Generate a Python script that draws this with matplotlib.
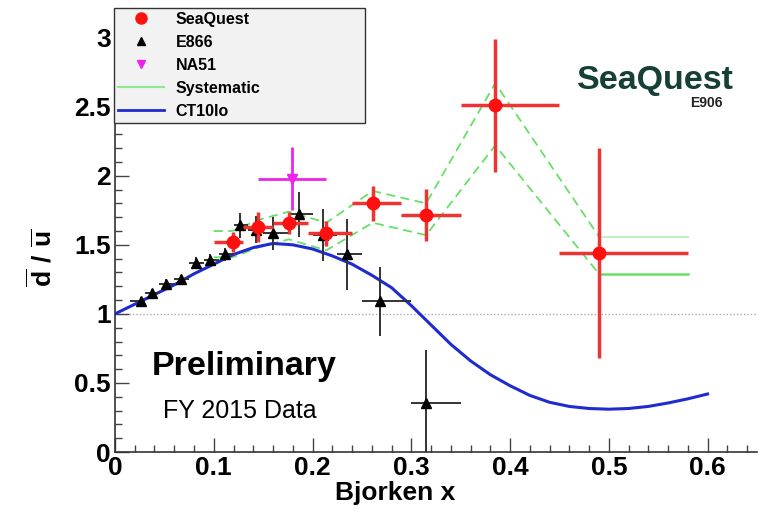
import numpy as np
import matplotlib
matplotlib.use("Agg")
import matplotlib.pyplot as plt
from matplotlib.lines import Line2D
from matplotlib.ticker import MultipleLocator

plt.rcParams['font.family'] = ['Liberation Sans', 'DejaVu Sans']
plt.rcParams['mathtext.fontset'] = 'custom'
plt.rcParams['mathtext.bf'] = 'Liberation Sans:bold'
plt.rcParams['mathtext.rm'] = 'Liberation Sans'

# SeaQuest points (bin edges, centres, values, stat errors, systematic band)
sq_lo = [0.10, 0.13, 0.16, 0.195, 0.24, 0.29, 0.35, 0.45]
sq_hi = [0.13, 0.16, 0.195, 0.24, 0.29, 0.35, 0.45, 0.58]
sq_x = [0.119, 0.145, 0.176, 0.214, 0.261, 0.315, 0.385, 0.490]
sq_y = [1.52, 1.63, 1.66, 1.585, 1.80, 1.717, 2.51, 1.44]
sq_err = [0.07, 0.11, 0.08, 0.09, 0.125, 0.19, 0.48, 0.76]
sys_up = [1.60, 1.68, 1.74, 1.66, 1.89, 1.80, 2.67, 1.56]
sys_dn = [1.41, 1.48, 1.54, 1.46, 1.66, 1.57, 2.22, 1.29]

# E866
e866_lo = [0.015, 0.03, 0.045, 0.06, 0.075, 0.09, 0.105, 0.12, 0.135, 0.15,
           0.175, 0.2, 0.225, 0.25, 0.30]
e866_hi = [0.03, 0.045, 0.06, 0.075, 0.09, 0.105, 0.12, 0.135, 0.15, 0.175,
           0.2, 0.225, 0.25, 0.30, 0.35]
e866_x = [0.026, 0.037, 0.052, 0.067, 0.082, 0.096, 0.111, 0.127, 0.143, 0.160,
          0.186, 0.211, 0.235, 0.268, 0.315]
e866_y = [1.09, 1.15, 1.22, 1.25, 1.37, 1.39, 1.43, 1.64, 1.61, 1.585,
          1.72, 1.57, 1.43, 1.09, 0.355]
e866_err = [0.03, 0.03, 0.03, 0.03, 0.04, 0.04, 0.05, 0.09, 0.10, 0.12,
            0.16, 0.19, 0.26, 0.25, 0.38]

# NA51
na51_x, na51_y = [0.179], [1.98]
na51_lo, na51_hi = [0.145], [0.214]
na51_err = [0.23]

# CT10lo curve
ct_x = [0, 0.02, 0.04, 0.06, 0.08, 0.10, 0.12, 0.14, 0.16, 0.18, 0.20, 0.22,
        0.24, 0.26, 0.28, 0.30, 0.32, 0.34, 0.36, 0.38, 0.40, 0.42, 0.44, 0.46,
        0.48, 0.50, 0.52, 0.54, 0.56, 0.58, 0.60]
ct_y = [1.00, 1.07, 1.14, 1.21, 1.29, 1.36, 1.43, 1.48, 1.51, 1.50, 1.47, 1.42,
        1.36, 1.28, 1.19, 1.06, 0.92, 0.78, 0.66, 0.56, 0.48, 0.41, 0.36, 0.33,
        0.315, 0.31, 0.315, 0.33, 0.355, 0.385, 0.42]

fig = plt.figure(figsize=(7.61, 5.16), dpi=100)
ax = fig.add_axes([0.1511, 0.124, 0.8436, 0.8566])

ax.axhline(1.0, color='#aaaaaa', lw=1, ls=(0, (1, 1.5)), zorder=1)

# systematic band
green = '#66e066'
for band in (sys_up, sys_dn):
    ax.plot([sq_lo[0]] + sq_x, [band[0]] + band, color=green, lw=1.3,
            ls=(0, (5, 3)), zorder=2)
ax.plot([sq_x[-1], sq_hi[-1]], [sys_up[-1]] * 2, color='#b8f0b8', lw=1.3, zorder=2)
ax.plot([sq_x[-1], sq_hi[-1]], [sys_dn[-1]] * 2, color=green, lw=1.8, zorder=2)

ax.plot(ct_x, ct_y, color='#1f2bd0', lw=2.2, zorder=3)

def xerrs(x, lo, hi):
    x = np.array(x)
    return [x - np.array(lo), np.array(hi) - x]

ax.errorbar(e866_x, e866_y, yerr=e866_err, xerr=xerrs(e866_x, e866_lo, e866_hi),
            fmt='^', color='black', ecolor='#333333', ms=7, elinewidth=1.4,
            capsize=0, zorder=4)
ax.errorbar(na51_x, na51_y, yerr=na51_err, xerr=xerrs(na51_x, na51_lo, na51_hi),
            fmt='v', color='#ee22ee', ms=7, elinewidth=2, capsize=0, zorder=4)
ax.errorbar(sq_x, sq_y, yerr=sq_err, xerr=xerrs(sq_x, sq_lo, sq_hi),
            fmt='o', color='#ff1010', ecolor='#ee3333', ms=9, elinewidth=2.5,
            capsize=0, zorder=5)

ax.set_xlim(0, 0.65)
ax.set_ylim(0, 3.2)
ax.xaxis.set_minor_locator(MultipleLocator(0.02))
ax.yaxis.set_minor_locator(MultipleLocator(0.1))
ax.set_xticks(np.arange(0, 0.61, 0.1))
ax.set_xticklabels(['0', '0.1', '0.2', '0.3', '0.4', '0.5', '0.6'])
ax.set_yticks(np.arange(0, 3.01, 0.5))
ax.set_yticklabels(['0', '0.5', '1', '1.5', '2', '2.5', '3'])
ax.tick_params(which='both', direction='in', color='#444444', width=1)
ax.tick_params(which='major', length=10, labelsize=19, pad=3)
ax.tick_params(which='minor', length=5)
for lab in ax.get_xticklabels() + ax.get_yticklabels():
    lab.set_fontweight('bold')
for s in ('top', 'right'):
    ax.spines[s].set_visible(False)
for s in ('left', 'bottom'):
    ax.spines[s].set_color('#333333')
    ax.spines[s].set_linewidth(1.2)

fig.text(0.519, 0.045, 'Bjorken x', ha='center', va='center',
         fontsize=19, fontweight='bold')
fig.text(0.055, 0.5, r'$\mathbf{\overline{d}\ /\ \overline{u}}$', ha='center',
         va='center', rotation=90, fontsize=19)

ax.text(0.037, 0.62, 'Preliminary', fontsize=24.5, fontweight='bold',
        ha='left', va='center')
ax.text(0.049, 0.30, 'FY 2015 Data', fontsize=18, ha='left', va='center')

fig.text(655 / 761, 1 - 80 / 516, 'SeaQuest', color='#163f35', fontsize=24.5,
         fontweight='heavy', ha='center', va='center')
fig.text(706 / 761, 1 - 103 / 516, 'E906', color='#222222', fontsize=10,
         fontweight='bold', ha='center', va='center')

handles = [
    Line2D([], [], ls='none', marker='o', color='#ff1010', ms=8),
    Line2D([], [], ls='none', marker='^', color='black', ms=6),
    Line2D([], [], ls='none', marker='v', color='#ee22ee', ms=6),
    Line2D([], [], color='#8ee88e', lw=1.5),
    Line2D([], [], color='#1f2bd0', lw=2),
]
labels = ['SeaQuest', 'E866', 'NA51', 'Systematic', 'CT10lo']
leg = fig.legend(handles, labels, loc='upper left',
                 bbox_to_anchor=(114 / 761, 1 - 118 / 516, 251 / 761, 110 / 516),
                 mode='expand', prop={'weight': 'bold', 'size': 11.5},
                 handlelength=2.9, handletextpad=0.7, labelspacing=0.5,
                 borderpad=0.25, borderaxespad=0, fancybox=False,
                 framealpha=1, facecolor='#f2f2f2', edgecolor='#333333')
leg.get_frame().set_linewidth(1)

fig.savefig('out.png', dpi=100)
